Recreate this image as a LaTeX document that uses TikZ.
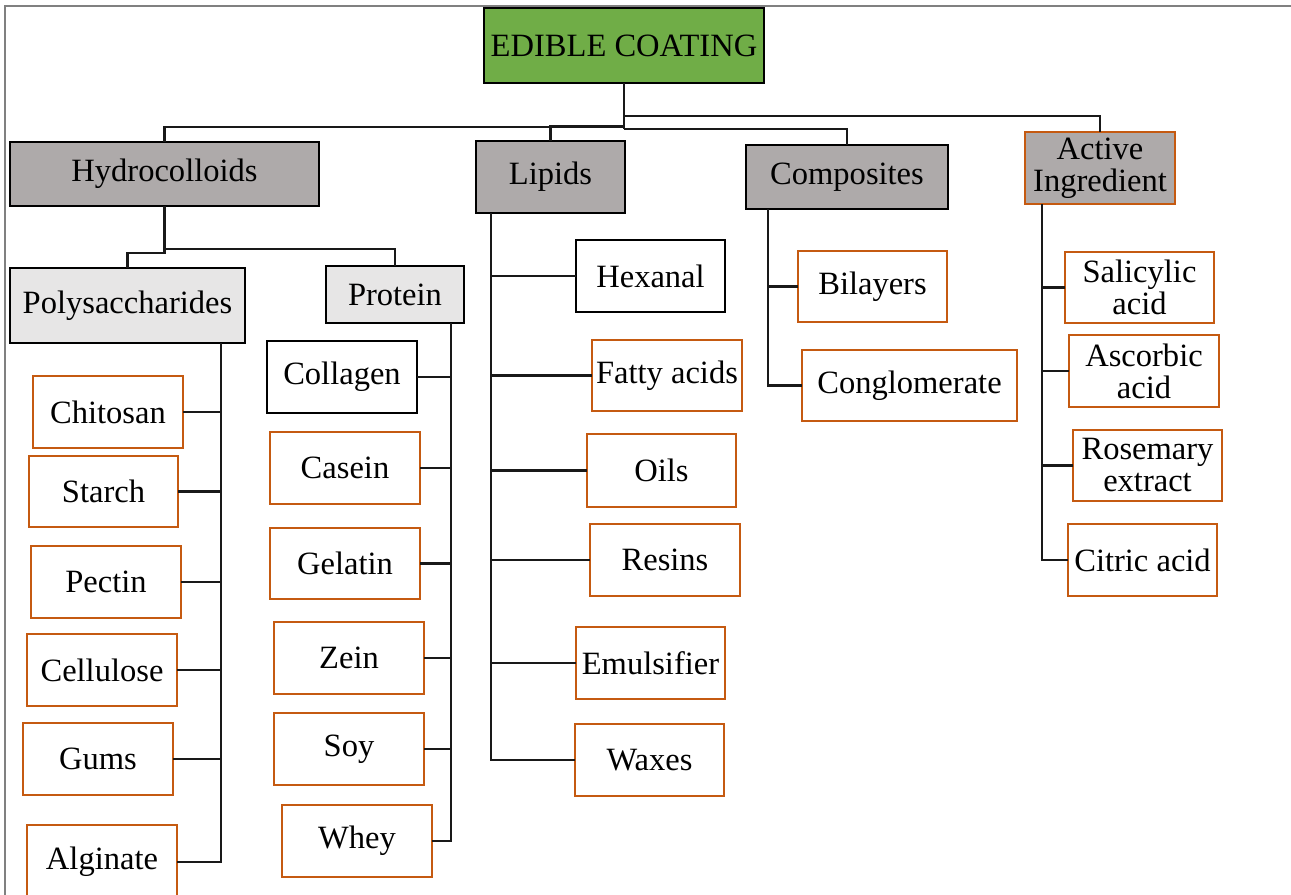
\documentclass[tikz,border=0pt]{standalone}
\usepackage{fontspec}
\setmainfont{Liberation Serif}
\definecolor{cgreen}{HTML}{70AD47}
\definecolor{cgray}{HTML}{AEAAAA}
\definecolor{clight}{HTML}{E7E6E6}
\definecolor{corange}{HTML}{C55A11}
\newcommand\bx[7]{\node[#6, minimum width={(#4-#2)*0.75pt}, minimum height={(#5-#3)*0.75pt}] (#1) at ({(#2+#4)/2},{(#3+#5)/2}) {#7};}
\tikzset{
  box/.style={draw, line width=2.1pt, inner sep=0pt, outer sep=0pt, align=center,
    font=\fontsize{24.4pt}{24pt}\selectfont},
  rootbox/.style={box, fill=cgreen, draw=black},
  catbox/.style={box, fill=cgray, draw=black},
  actbox/.style={box, fill=cgray, draw=corange},
  subbox/.style={box, fill=clight, draw=black},
  blackleaf/.style={box, fill=white, draw=black},
  leaf/.style={box, fill=white, draw=corange, line width=1.9pt},
  conn/.style={line width=1.9pt, draw=black!90},
}
\begin{document}
\begin{tikzpicture}[x=0.75pt,y=-0.75pt]
\useasboundingbox (0,0) rectangle (1291,895);
\clip (0,0) rectangle (1291,895);
\fill[white] (0,0) rectangle (1291,895);
\draw[gray, line width=0.8pt] (5,895) -- (5,6) -- (1291,6);

% top level
\bx{edible}{484}{8}{764}{83}{rootbox}{EDIBLE COATING}
\bx{hydro}{10}{142}{319}{206}{catbox}{Hydrocolloids}
\bx{lipids}{476}{141}{625}{213}{catbox}{Lipids}
\bx{comp}{746}{145}{948}{209}{catbox}{Composites}
\bx{active}{1025}{132}{1175}{204}{actbox}{Active\\Ingredient}

\coordinate (jA) at (624,116);
\coordinate (jL) at (624,126);
\coordinate (jH) at (624,127);
\coordinate (jC) at (624,129);
\draw[conn] (edible.south) -- (jC);
\draw[conn] (jH) -| (hydro.north);
\draw[conn] (jL) -| (lipids.north);
\draw[conn] (jC) -| (comp.north);
\draw[conn] (jA) -| (active.north);

% hydrocolloids
\bx{poly}{10}{268}{245}{343}{subbox}{Polysaccharides}
\bx{prot}{326}{266}{464}{323}{subbox}{Protein}
\coordinate (jPr) at (164.5,249);
\coordinate (jPo) at (164.5,253);
\draw[conn] (hydro.south) -- (jPo) -| (poly.north);
\draw[conn] (jPr) -| (prot.north);

% polysaccharides children
\bx{chitosan}{33}{376}{183}{448}{leaf}{Chitosan}
\bx{starch}{29}{456}{178}{527}{leaf}{Starch}
\bx{pectin}{31}{546}{181}{618}{leaf}{Pectin}
\bx{cellulose}{27}{634}{177}{706}{leaf}{Cellulose}
\bx{gums}{23}{723}{173}{795}{leaf}{Gums}
\bx{alginate}{27}{825}{177}{899}{leaf}{Alginate}
\coordinate (psp) at (221,343);
\draw[conn] (psp) |- (alginate.east);
\foreach \n in {chitosan,starch,pectin,cellulose,gums}
  \draw[conn] (\n.east) -- (\n.east -| psp);

% protein children
\bx{collagen}{267}{341}{417}{413}{blackleaf}{Collagen}
\bx{casein}{270}{432}{420}{504}{leaf}{Casein}
\bx{gelatin}{270}{528}{420}{599}{leaf}{Gelatin}
\bx{zein}{274}{622}{424}{694}{leaf}{Zein}
\bx{soy}{274}{713}{424}{785}{leaf}{Soy}
\bx{whey}{282}{805}{432}{877}{leaf}{Whey}
\coordinate (prsp) at (451,323);
\draw[conn] (prsp) |- (whey.east);
\foreach \n in {collagen,casein,gelatin,zein,soy}
  \draw[conn] (\n.east) -- (\n.east -| prsp);

% lipids children
\bx{hexanal}{576}{240}{725}{312}{blackleaf}{Hexanal}
\bx{fatty}{592}{340}{742}{411}{leaf}{Fatty acids}
\bx{oils}{587}{434}{736}{507}{leaf}{Oils}
\bx{resins}{590}{524}{740}{596}{leaf}{Resins}
\bx{emuls}{576}{627}{725}{699}{leaf}{Emulsifier}
\bx{waxes}{575}{724}{724}{796}{leaf}{Waxes}
\coordinate (lsp) at (491,213);
\draw[conn] (lsp) |- (waxes.west);
\foreach \n in {hexanal,fatty,oils,resins,emuls}
  \draw[conn] (\n.west) -- (\n.west -| lsp);

% composites children
\bx{bilayers}{798}{251}{947}{322}{leaf}{Bilayers}
\bx{congl}{802}{350}{1017}{421}{leaf}{Conglomerate}
\coordinate (csp) at (768,209);
\draw[conn] (csp) |- (congl.west);
\draw[conn] (bilayers.west) -- (bilayers.west -| csp);

% active children
\bx{salic}{1065}{252}{1214}{323}{leaf}{Salicylic\\acid}
\bx{ascorb}{1069}{335}{1219}{407}{leaf}{Ascorbic\\acid}
\bx{rosem}{1073}{430}{1222}{501}{leaf}{Rosemary\\extract}
\bx{citric}{1068}{524}{1217}{596}{leaf}{Citric acid}
\coordinate (asp) at (1042,204);
\draw[conn] (asp) |- (citric.west);
\foreach \n in {salic,ascorb,rosem}
  \draw[conn] (\n.west) -- (\n.west -| asp);
\end{tikzpicture}
\end{document}
